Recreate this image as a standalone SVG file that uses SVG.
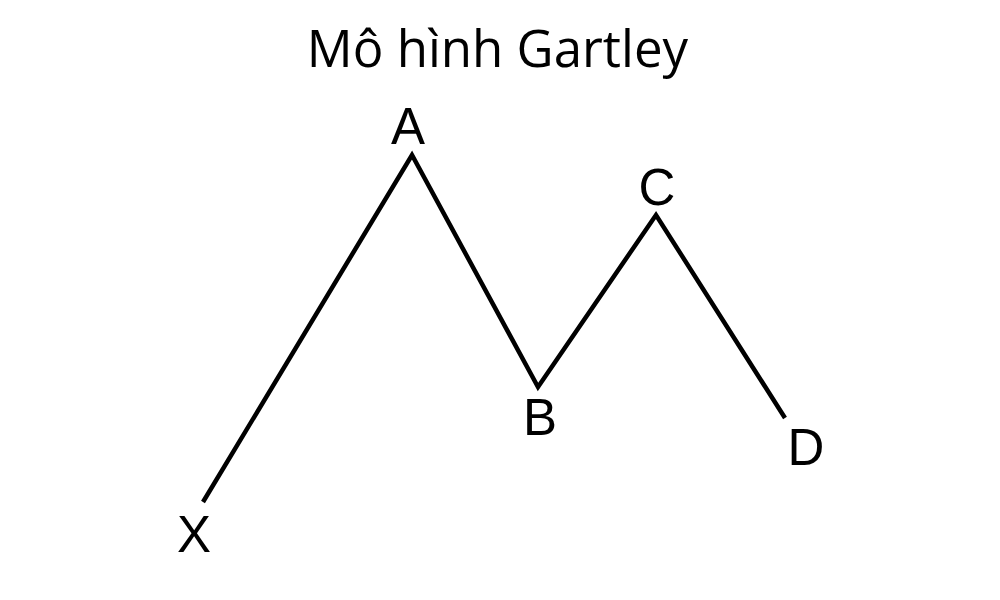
<svg xmlns="http://www.w3.org/2000/svg" width="1000" height="600" viewBox="0 0 1000 600">
<style>
.title{font-family:"Open Sans","Noto Sans",sans-serif;font-size:51px;fill:#000;text-anchor:middle}
.lbl{font-family:"Liberation Sans",Arial,sans-serif;font-size:51px;fill:#000;text-anchor:middle}
.wave{fill:none;stroke:#000;stroke-width:4.5;stroke-linejoin:miter;stroke-miterlimit:10}
</style>
<rect width="1000" height="600" fill="#fff"/>
<text class="title" x="497.5" y="67">Mô hình Gartley</text>
<g id="connectors">
<polyline class="wave" points="203,502 412,155 538,387 656,215 785,418"/>
</g>
<g id="X"><text class="lbl" x="194" y="552">X</text></g>
<g id="A"><text class="lbl" x="408" y="144">A</text></g>
<g id="B"><text class="lbl" x="540" y="435">B</text></g>
<g id="C"><text class="lbl" x="657" y="205">C</text></g>
<g id="D"><text class="lbl" x="806" y="465">D</text></g>
</svg>
